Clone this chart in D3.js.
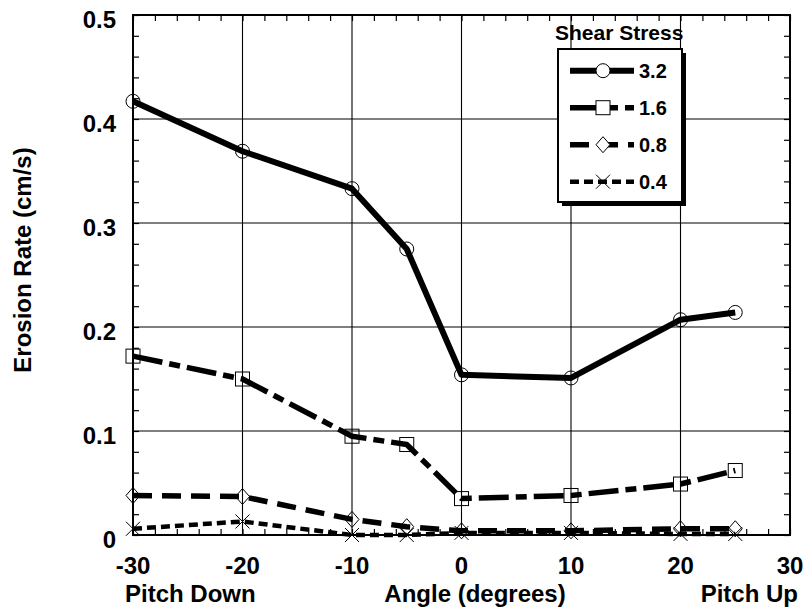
<!DOCTYPE html>
<html>
<head>
<meta charset="utf-8">
<script src="https://cdn.jsdelivr.net/npm/d3@7"></script>
<style>
  html, body { margin: 0; padding: 0; background: #fff; }
  svg { display: block; }
  text { font-family: "Liberation Sans", Arial, Helvetica, sans-serif; font-weight: bold; fill: #000; }
</style>
</head>
<body>
<svg id="chart" width="805" height="613"></svg>
<script>
// Angles (degrees) at which erosion was measured
const angles = [-30, -20, -10, -5, 0, 10, 20, 25];

// Erosion rate (cm/s) for each shear stress level
const stress32 = [0.417, 0.369, 0.333, 0.275, 0.154, 0.151, 0.207, 0.214];
const stress16 = [0.172, 0.150, 0.095, 0.087, 0.035, 0.038, 0.049, 0.062];
const stress08 = [0.038, 0.037, 0.015, 0.008, 0.004, 0.004, 0.006, 0.006];
const stress04 = [0.006, 0.013, 0.000, 0.000, 0.002, 0.002, 0.001, 0.001];

const seriesNames = ["3.2", "1.6", "0.8", "0.4"];

const xTicks = [-30, -20, -10, 0, 10, 20, 30];
const yTicks = [0, 0.1, 0.2, 0.3, 0.4, 0.5];

const legendTitle = "Shear Stress";
const xTitle = "Angle (degrees)";
const xLeftNote = "Pitch Down";
const xRightNote = "Pitch Up";
const yTitle = "Erosion Rate (cm/s)";

const series = [
  { name: seriesNames[0], values: stress32, marker: "circle",  dash: null,          width: 6 },
  { name: seriesNames[1], values: stress16, marker: "square",  dash: "30,7,11,7",   width: 5.5 },
  { name: seriesNames[2], values: stress08, marker: "diamond", dash: "19,10",       width: 5.5 },
  { name: seriesNames[3], values: stress04, marker: "cross",   dash: "9,5",         width: 4.5 }
];

const svg = d3.select("#chart");
const plot = { left: 133, right: 790, top: 15, bottom: 535 };

const x = d3.scaleLinear().domain([-30, 30]).range([plot.left, plot.right]);
const y = d3.scaleLinear().domain([0, 0.5]).range([plot.bottom, plot.top]);

// Grid lines at major ticks
const grid = svg.append("g");
grid.selectAll("line.vx").data(xTicks.slice(1, -1)).join("line")
  .attr("x1", d => x(d)).attr("x2", d => x(d))
  .attr("y1", plot.top).attr("y2", plot.bottom)
  .attr("stroke", "#000").attr("stroke-width", 1.1);
grid.selectAll("line.hy").data(yTicks.slice(1, -1)).join("line")
  .attr("x1", plot.left).attr("x2", plot.right)
  .attr("y1", d => y(d)).attr("y2", d => y(d))
  .attr("stroke", "#000").attr("stroke-width", 1.1);

// Minor ticks pointing inward on all four sides
const tickLen = 6;
const xMinor = d3.range(-30, 30.001, 2);
const yMinor = d3.range(0, 0.5001, 0.02);
const axX = d3.axisBottom(x).tickValues(xMinor).tickSize(-tickLen).tickFormat("");
const axXt = d3.axisTop(x).tickValues(xMinor).tickSize(-tickLen).tickFormat("");
const axY = d3.axisLeft(y).tickValues(yMinor).tickSize(-tickLen).tickFormat("");
const axYr = d3.axisRight(y).tickValues(yMinor).tickSize(-tickLen).tickFormat("");
[[axX, `translate(0,${plot.bottom})`], [axXt, `translate(0,${plot.top})`],
 [axY, `translate(${plot.left},0)`], [axYr, `translate(${plot.right},0)`]].forEach(([ax, tr]) => {
  const g = svg.append("g").attr("transform", tr).call(ax);
  g.select(".domain").remove();
  g.selectAll(".tick line").attr("stroke", "#000").attr("stroke-width", 1.2);
});

// Plot frame
svg.append("rect")
  .attr("x", plot.left).attr("y", plot.top)
  .attr("width", plot.right - plot.left).attr("height", plot.bottom - plot.top)
  .attr("fill", "none").attr("stroke", "#000").attr("stroke-width", 2);

// Tick labels (plain hyphen for negatives)
svg.append("g").selectAll("text").data(xTicks).join("text")
  .attr("x", d => x(d)).attr("y", 574)
  .attr("text-anchor", "middle").attr("font-size", 24)
  .text(d => String(d));
svg.append("g").selectAll("text").data(yTicks).join("text")
  .attr("x", 116).attr("y", d => y(d) + 12.5)
  .attr("text-anchor", "end").attr("font-size", 24)
  .text(d => d === 0 ? "0" : d3.format(".1f")(d));

// Axis titles
svg.append("text").attr("x", 475).attr("y", 602).attr("text-anchor", "middle")
  .attr("font-size", 24).text(xTitle);
svg.append("text").attr("x", 125).attr("y", 602).attr("text-anchor", "start")
  .attr("font-size", 24).text(xLeftNote);
svg.append("text").attr("x", 798).attr("y", 602).attr("text-anchor", "end")
  .attr("font-size", 24).text(xRightNote);
svg.append("text")
  .attr("transform", "translate(31,260) rotate(-90)")
  .attr("text-anchor", "middle").attr("font-size", 24).text(yTitle);

// Marker shapes
function drawMarker(g, type, cx, cy) {
  const r = 7;
  if (type === "circle") {
    g.append("circle").attr("cx", cx).attr("cy", cy).attr("r", r);
  } else if (type === "square") {
    g.append("rect").attr("x", cx - r).attr("y", cy - r).attr("width", 2 * r).attr("height", 2 * r);
  } else if (type === "diamond") {
    g.append("path").attr("d", `M${cx},${cy - r - 1}L${cx + r},${cy}L${cx},${cy + r + 1}L${cx - r},${cy}Z`);
  } else if (type === "cross") {
    g.append("path").attr("d", `M${cx - r},${cy - r}L${cx + r},${cy + r}M${cx - r},${cy + r}L${cx + r},${cy - r}`);
  }
}

const line = d3.line().x(d => x(d[0])).y(d => y(d[1]));

series.forEach(s => {
  const pts = angles.map((a, i) => [a, s.values[i]]);
  const mg = svg.append("g").attr("fill", "none").attr("stroke", "#000").attr("stroke-width", 1);
  pts.forEach(p => drawMarker(mg, s.marker, x(p[0]), y(p[1])));
  svg.append("path").datum(pts)
    .attr("d", line)
    .attr("fill", "none").attr("stroke", "#000")
    .attr("stroke-width", s.width)
    .attr("stroke-linejoin", "round")
    .attr("stroke-dasharray", s.dash);
});

// Legend
const lg = svg.append("g");
lg.append("text").attr("x", 555).attr("y", 40).attr("font-size", 21).text(legendTitle);
lg.append("rect").attr("x", 562).attr("y", 53).attr("width", 124).attr("height", 153).attr("fill", "#000");
lg.append("rect").attr("x", 558).attr("y", 49).attr("width", 124).attr("height", 153)
  .attr("fill", "#fff").attr("stroke", "#000").attr("stroke-width", 2);
series.forEach((s, i) => {
  const cy = 70.7 + i * 37;
  lg.append("line").attr("x1", 570).attr("x2", 634).attr("y1", cy).attr("y2", cy)
    .attr("stroke", "#000").attr("stroke-width", s.width).attr("stroke-dasharray", s.dash);
  const mg = lg.append("g").attr("fill", "#fff").attr("stroke", "#000").attr("stroke-width", 1);
  drawMarker(mg, s.marker, 603, cy);
  lg.append("text").attr("x", 639).attr("y", cy + 7.5).attr("font-size", 20).text(s.name);
});
</script>
</body>
</html>
